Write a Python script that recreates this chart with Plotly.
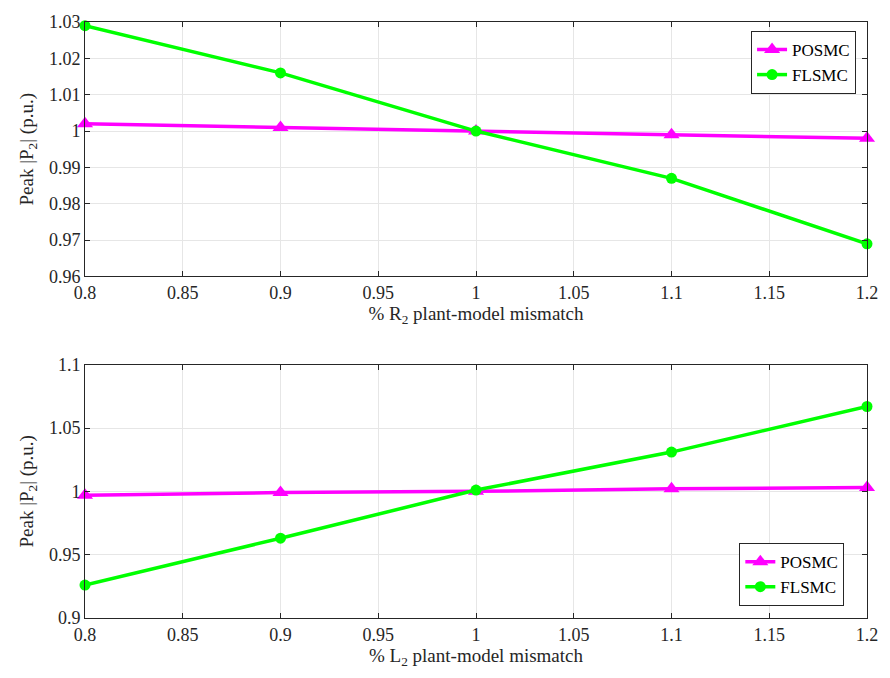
import plotly.graph_objects as go

x_vals = [0.8, 0.9, 1.0, 1.1, 1.2]
r2_posmc = [1.002, 1.001, 1.000, 0.999, 0.998]
r2_flsmc = [1.029, 1.016, 1.000, 0.987, 0.969]
l2_posmc = [0.997, 0.999, 1.000, 1.002, 1.003]
l2_flsmc = [0.926, 0.963, 1.001, 1.031, 1.067]

x_ticks = [0.8, 0.85, 0.9, 0.95, 1.0, 1.05, 1.1, 1.15, 1.2]
x_ticktext = ["0.8", "0.85", "0.9", "0.95", "1", "1.05", "1.1", "1.15", "1.2"]
y1_ticks = [0.96, 0.97, 0.98, 0.99, 1.0, 1.01, 1.02, 1.03]
y1_ticktext = ["0.96", "0.97", "0.98", "0.99", "1", "1.01", "1.02", "1.03"]
y2_ticks = [0.9, 0.95, 1.0, 1.05, 1.1]
y2_ticktext = ["0.9", "0.95", "1", "1.05", "1.1"]

MAG = "#FF00FF"
GRN = "#00FF00"
FONT = "'Liberation Serif', 'Times New Roman', Times, serif"
TXT = "#262626"

fig = go.Figure()
fig.add_trace(go.Scatter(x=x_vals, y=r2_posmc, name="POSMC", mode="lines+markers",
                         line=dict(color=MAG, width=3.5), marker=dict(symbol="triangle-up", size=14, color=MAG),
                         xaxis="x", yaxis="y", legend="legend", cliponaxis=False))
fig.add_trace(go.Scatter(x=x_vals, y=r2_flsmc, name="FLSMC", mode="lines+markers",
                         line=dict(color=GRN, width=3.5), marker=dict(symbol="circle", size=11, color=GRN),
                         xaxis="x", yaxis="y", legend="legend", cliponaxis=False))
fig.add_trace(go.Scatter(x=x_vals, y=l2_posmc, name="POSMC", mode="lines+markers",
                         line=dict(color=MAG, width=3.5), marker=dict(symbol="triangle-up", size=14, color=MAG),
                         xaxis="x2", yaxis="y2", legend="legend2", cliponaxis=False))
fig.add_trace(go.Scatter(x=x_vals, y=l2_flsmc, name="FLSMC", mode="lines+markers",
                         line=dict(color=GRN, width=3.5), marker=dict(symbol="circle", size=11, color=GRN),
                         xaxis="x2", yaxis="y2", legend="legend2", cliponaxis=False))

axis_common = dict(showline=True, linecolor=TXT, linewidth=1, mirror="ticks",
                   ticks="inside", ticklen=5, tickcolor=TXT,
                   showgrid=True, gridcolor="#E6E6E6", gridwidth=1, zeroline=False,
                   tickfont=dict(family=FONT, size=18, color=TXT))

title_font = dict(family=FONT, size=19, color=TXT)

fig.update_layout(
    width=890, height=678,
    margin=dict(l=85, r=16, t=16, b=60),
    paper_bgcolor="white", plot_bgcolor="white",
    font=dict(family=FONT, color=TXT),
    xaxis=dict(domain=[0, 1], anchor="y", range=[0.8, 1.2], tickvals=x_ticks, ticktext=x_ticktext,
               title=dict(text="% R<sub>2</sub> plant-model mismatch", font=title_font, standoff=0),
               **axis_common),
    yaxis=dict(domain=[0.573, 1], anchor="x", range=[0.96, 1.03], tickvals=y1_ticks, ticktext=y1_ticktext,
               title=dict(text="Peak |P<sub>2</sub>| (p.u.)", font=title_font, standoff=10),
               **axis_common),
    xaxis2=dict(domain=[0, 1], anchor="y2", range=[0.8, 1.2], tickvals=x_ticks, ticktext=x_ticktext,
                title=dict(text="% L<sub>2</sub> plant-model mismatch", font=title_font, standoff=0),
                **axis_common),
    yaxis2=dict(domain=[0, 0.425], anchor="x2", range=[0.9, 1.1], tickvals=y2_ticks, ticktext=y2_ticktext,
                title=dict(text="Peak |P<sub>2</sub>| (p.u.)", font=title_font, standoff=10),
                **axis_common),
    legend=dict(x=0.986, y=0.985, xanchor="right", yanchor="top", bgcolor="white",
                bordercolor=TXT, borderwidth=1, font=dict(family=FONT, size=17, color="black"),
                tracegroupgap=0, itemwidth=30),
    legend2=dict(x=0.971, y=0.02, xanchor="right", yanchor="bottom", bgcolor="white",
                 bordercolor=TXT, borderwidth=1, font=dict(family=FONT, size=17, color="black"),
                 tracegroupgap=0, itemwidth=30),
)

fig.write_html("out.html")
